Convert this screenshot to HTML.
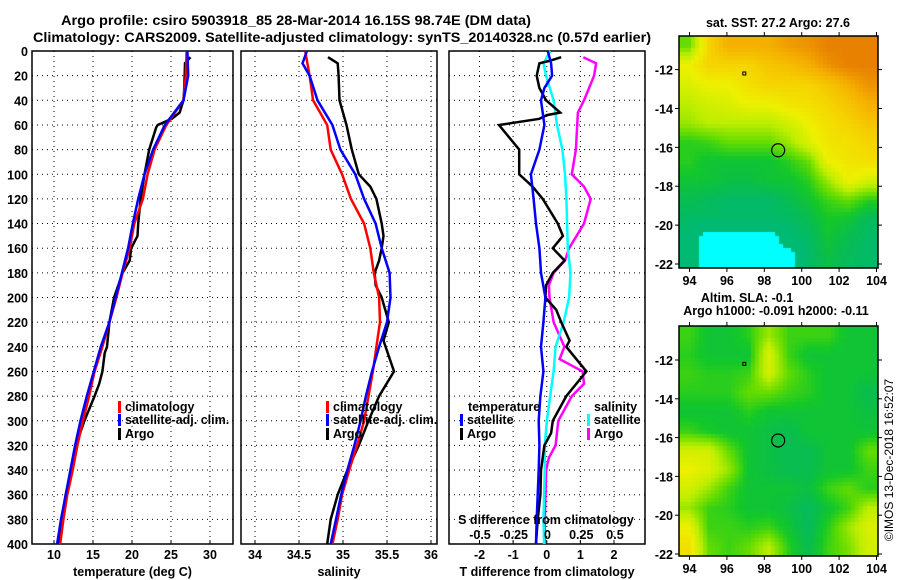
<!DOCTYPE html>
<html><head><meta charset="utf-8"><style>
html,body{margin:0;padding:0;background:#fff;}
#wrap{position:relative;width:900px;height:580px;overflow:hidden;}
svg{position:absolute;left:0;top:0;}
canvas{position:absolute;}
text{font-family:"Liberation Sans",sans-serif;font-weight:bold;font-size:12.5px;fill:#000;}
</style></head><body>
<div id="wrap">
<canvas id="map1" width="199" height="232" style="left:679px;top:36px"></canvas>
<canvas id="map2" width="199" height="230" style="left:679px;top:326px"></canvas>
<svg id="chart" width="900" height="580" xmlns="http://www.w3.org/2000/svg">
<text x="296" y="25" text-anchor="middle" style="font-size:13.5px" textLength="470" lengthAdjust="spacingAndGlyphs">Argo profile: csiro 5903918_85 28-Mar-2014 16.15S 98.74E (DM data)</text>
<text x="342" y="42" text-anchor="middle" style="font-size:13.5px" textLength="618" lengthAdjust="spacingAndGlyphs">Climatology: CARS2009. Satellite-adjusted climatology: synTS_20140328.nc (0.57d earlier)</text>
<text x="778" y="27" text-anchor="middle">sat. SST: 27.2 Argo: 27.6</text>
<text x="747" y="302" text-anchor="middle">Altim. SLA: -0.1</text>
<text x="776" y="315" text-anchor="middle">Argo h1000: -0.091 h2000: -0.11</text>
<text transform="translate(893,460) rotate(-90)" text-anchor="middle" style="font-weight:normal;font-size:12px">©IMOS 13-Dec-2018 16:52:07</text>
<g id="g"></g>
</svg>
</div>
<script>
const tDepth=[0,20,40,60,80,100,120,140,160,180,200,220,240,260,280,300,320,340,360,380,400];
const tClim=[27.0,26.9,26.6,24.4,22.9,22.0,21.4,20.3,19.7,18.8,18.0,17.1,16.2,15.2,14.5,13.7,13.0,12.4,11.7,11.2,10.8];
const tSatAdj=[27.1,27.2,26.6,24.2,22.7,21.6,20.8,20.1,19.5,18.7,17.9,17.1,16.0,15.1,14.2,13.4,12.7,12.1,11.5,10.9,10.4];
const argoTDepth=[5,10,30,40,50,55,60,62,80,100,120,140,150,160,170,180,200,220,240,245,260,270,280,300,320,340,360,380,400];
const argoT=[27.5,26.8,26.7,26.6,26.1,25.1,23.3,23.1,22.2,21.6,21.1,20.8,20.7,19.9,19.7,18.8,17.7,17.1,16.8,16.5,16.2,15.8,15.2,13.9,12.8,12.2,11.5,11.0,10.5];
const sDepth=[0,20,40,60,80,100,120,140,160,180,200,220,240,260,280,300,320,340,360,380,400];
const sClim=[34.57,34.62,34.66,34.82,34.86,34.99,35.09,35.24,35.31,35.35,35.41,35.42,35.38,35.34,35.29,35.24,35.16,35.07,34.99,34.94,34.88];
const sSatDepth=[0,10,20,40,60,80,100,120,140,160,180,200,220,240,260,280,300,320,340,360,380,400];
const sSatAdj=[34.59,34.54,34.62,34.71,34.88,34.97,35.14,35.24,35.37,35.44,35.53,35.54,35.50,35.41,35.33,35.26,35.20,35.13,35.05,34.98,34.92,34.86];
const argoSDepth=[5,10,20,40,60,80,100,110,120,140,150,160,170,180,190,200,220,235,260,280,300,320,340,360,380,400];
const argoS=[34.83,34.94,34.95,34.96,35.04,35.10,35.18,35.31,35.38,35.44,35.46,35.44,35.41,35.36,35.37,35.44,35.52,35.46,35.58,35.41,35.29,35.18,35.05,34.94,34.86,34.82];
const dTSatDepth=[0,10,20,30,40,60,80,100,120,140,160,180,200,220,240,260,280,300,320,340,360,380,400];
const dTSat=[0.03,0.13,0.16,-0.07,-0.17,-0.07,-0.22,-0.47,-0.39,-0.32,-0.22,-0.17,-0.04,-0.1,-0.17,-0.1,-0.19,-0.24,-0.22,-0.24,-0.27,-0.3,-0.32];
const dTArgoDepth=[5,8,10,20,30,40,50,52,55,60,70,80,100,110,120,140,150,160,170,180,190,200,210,220,235,240,260,280,300,310,320,340,360,380,400];
const dTArgo=[0.43,0.08,-0.22,-0.3,-0.22,-0.02,0.4,0.0,-0.22,-1.42,-1.12,-0.82,-0.82,-0.42,-0.12,0.33,0.48,0.18,0.53,0.18,-0.02,-0.04,0.28,0.43,0.68,0.58,1.18,0.58,0.18,0.13,-0.07,-0.17,-0.19,-0.27,-0.32];
const dSSatDepth=[0,10,20,40,60,80,100,120,140,160,180,200,220,240,260,280,300,320,340,360,380,400];
const dSSat=[0.02,-0.03,-0.01,0.045,0.07,0.11,0.13,0.14,0.145,0.15,0.17,0.16,0.12,0.06,0.045,0.02,-0.005,-0.02,-0.02,-0.025,-0.03,-0.025];
const dSArgoDepth=[5,10,20,40,50,60,80,100,110,120,140,160,170,180,190,200,220,240,250,260,270,280,300,320,330,340,360,380,400];
const dSArgo=[0.265,0.36,0.345,0.27,0.225,0.22,0.21,0.18,0.27,0.32,0.27,0.16,0.13,0.045,0.01,0.015,0.045,0.125,0.09,0.26,0.27,0.18,0.08,0.06,0.01,-0.01,-0.015,-0.02,-0.02];
const depthTicks=[0,20,40,60,80,100,120,140,160,180,200,220,240,260,280,300,320,340,360,380,400];
const tTicks=[10,15,20,25,30];
const sTicks=[34,34.5,35,35.5,36];
const sTickLabels=["34","34.5","35","35.5","36"];
const dTTicks=[-2,-1,0,1,2];
const dSTicks=[-0.5,-0.25,0,0.25,0.5];
const dSTickLabels=["-0.5","-0.25","0","0.25","0.5"];
const sstGrid=[
[1.5,3,3.5,3.5,3.5,3.7,3.8,4,4,4],
[2.5,3,3,3,3.2,3.3,3.5,3.8,4,4],
[2.3,2.5,2.5,2.8,3,3,3,3.2,3.5,3.8],
[2,2.2,2.3,2.5,2.5,2.7,2.8,3,3.2,3.5],
[1.8,2,2,2,2,2.2,2.5,2.8,3,3.2],
[1.2,1.3,1.5,1.5,1.5,1.8,2.3,2.7,2.8,3],
[1.2,1,1,1,1,1.2,1.5,2.5,2.7,2.8],
[1,1,0.9,0.9,1,1,1.2,1.8,2.5,2.2],
[0.8,0.7,0.6,0.6,0.6,0.8,1,1.3,1.5,1.2],
[0.6,0.6,0.6,0.6,0.6,0.6,0.8,1.1,1,0.7],
[0.5,0,0,0,0,0.5,0.6,1,0.8,0.6],
[0.5,0,0,0,0,0,0.6,0.9,0.7,0.6]];
const slaGrid=[
[1.3,1,1,1.2,1.8,1.3,1.3,1.3,1,1],
[1.2,1,1,1,2.3,1.3,1,1,1,1],
[1.3,1.2,1.2,1.3,2.2,1.5,1.2,1,1,1],
[1.2,1.2,1.2,1.5,1.5,1.3,1.2,1,1,0.8],
[1,1,1,1.2,1,1,1,1,1,0.9],
[1.3,1.1,1,1,0.9,0.8,1,1,1,1],
[2.2,2.2,1.5,1,0.9,0.8,0.8,1,1,1.5],
[2.5,2.3,1.8,1,0.9,0.8,0.8,1,1,1.3],
[2.2,1.8,1.3,1,1,1,0.9,1.3,1.5,1.2],
[1.8,1.3,1.2,1,1,0.9,0.7,1,1.3,2],
[2.5,1.3,1.3,1.2,1.3,1,0.7,1.2,1.8,2.3],
[2.8,1.5,1.3,1.5,2,1.2,0.8,1.3,1.6,2.2]];
const argoLon=98.74, argoLat=-16.15;
const lonTicks=[94,96,98,100,102,104];
const latTicks=[-12,-14,-16,-18,-20,-22];

const NS='http://www.w3.org/2000/svg';
const G=document.getElementById('g');
function el(tag,attrs,parent){const e=document.createElementNS(NS,tag);for(const k in attrs)e.setAttribute(k,attrs[k]);(parent||G).appendChild(e);return e;}
function txt(x,y,s,anchor,parent,size){const t=el('text',{x:x,y:y,'text-anchor':anchor||'middle'},parent);if(size)t.style.fontSize=size+'px';t.textContent=s;return t;}

const yTop=51,yBot=544;
function yD(d){return yTop+(yBot-yTop)*d/400;}
function lin(d0,d1,p0,p1){return v=>p0+(v-d0)*(p1-p0)/(d1-d0);}
const panels=[
 {name:'temperature-panel',l:32,r:233,x:lin(10,30,54,210),ticks:tTicks,labels:tTicks.map(String),title:'temperature (deg C)'},
 {name:'salinity-panel',l:241,r:437,x:lin(34,36,255,431),ticks:sTicks,labels:sTickLabels,title:'salinity'},
 {name:'difference-panel',l:449,r:645,x:lin(-2,2,479.5,614),ticks:dTTicks,labels:dTTicks.map(String),title:'T difference from climatology'}
];
panels.forEach((p,pi)=>{
 const g=el('g',{});
 
 
 depthTicks.forEach(d=>{if(d>0&&d<400){const l=el('line',{x1:p.l,x2:p.r,y1:yD(d),y2:yD(d),stroke:'#000','stroke-width':1,'stroke-dasharray':'1,4'},g);}});
 p.ticks.forEach((t,i)=>{const X=p.x(t);
  const l=el('line',{x1:X,x2:X,y1:yTop,y2:yBot,stroke:'#000','stroke-width':1,'stroke-dasharray':'1,4'},g);
  el('line',{x1:X,x2:X,y1:yBot,y2:yBot-4,stroke:'#000'},g);
  const tl=txt(X,559,p.labels[i],'middle',g);});
 const at=txt((p.l+p.r)/2,576,p.title,'middle',g);
 const fr=el('rect',{x:p.l,y:yTop,width:p.r-p.l,height:yBot-yTop,fill:'none',stroke:'#000','stroke-width':1.5},g);
 
 if(pi===0){depthTicks.forEach(d=>{const tl=txt(28,yD(d)+5,String(d),'end',g);});}
});
function series(xs,ds,xf,color,name,w){
 const pts=xs.map((v,i)=>xf(v).toFixed(1)+','+yD(ds[i]).toFixed(1)).join(' ');
 const pl=el('polyline',{points:pts,fill:'none',stroke:color,'stroke-width':w||2.5,'stroke-linejoin':'miter'});
 
 
}
const xT=panels[0].x,xS=panels[1].x,xDT=panels[2].x;
const xDS=lin(-0.5,0.5,480,615);
series(argoT,argoTDepth,xT,'#000','argo-temperature-line');
series(tClim,tDepth,xT,'#f00','climatology-temperature-line');
series(tSatAdj,tDepth,xT,'#00f','satellite-temperature-line');
series(argoS,argoSDepth,xS,'#000','argo-salinity-line');
series(sClim,sDepth,xS,'#f00','climatology-salinity-line');
series(sSatAdj,sSatDepth,xS,'#00f','satellite-salinity-line');
series(dSArgo,dSArgoDepth,xDS,'#f0f','argo-s-diff-line');
series(dSSat,dSSatDepth,xDS,'#0ff','satellite-s-diff-line');
series(dTArgo,dTArgoDepth,xDT,'#000','argo-t-diff-line');
series(dTSat,dTSatDepth,xDT,'#00f','satellite-t-diff-line');

const sa=txt(546,524,'S difference from climatology','middle');

dSTicks.forEach((t,i)=>{const l=txt(xDS(t),539,dSTickLabels[i],'middle');});

function legend(x,y,color,label,name){
 const g=el('g',{});
 
 
 el('rect',{x:x,y:y-10,width:3,height:12,fill:color},g);
 txt(x+7,y,label,'start',g);
}
legend(118,411,'#f00','climatology','legend-temp-climatology');
legend(118,424,'#00f','satellite-adj. clim.','legend-temp-satellite');
legend(118,438,'#000','Argo','legend-temp-argo');
legend(326,411,'#f00','climatology','legend-sal-climatology');
legend(326,424,'#00f','satellite-adj. clim.','legend-sal-satellite');
legend(326,438,'#000','Argo','legend-sal-argo');
const lt=txt(468,411,'temperature','start');
legend(460,424,'#00f','satellite','legend-tdiff-satellite');
legend(460,438,'#000','Argo','legend-tdiff-argo');
const ls=txt(594,411,'salinity','start');
legend(587,424,'#0ff','satellite','legend-sdiff-satellite');
legend(587,438,'#f0f','Argo','legend-sdiff-argo');

const stops=[[0.5,[0,185,115]],[0.85,[10,190,75]],[1.1,[20,200,40]],[1.5,[100,220,0]],[2.0,[190,238,0]],[2.5,[238,240,0]],[3.0,[245,212,0]],[3.5,[245,175,0]],[4.0,[232,128,0]]];
function cmap(v){if(v<0.25)return [0,255,255];if(v<=stops[0][0])return stops[0][1];
 for(let i=1;i<stops.length;i++){if(v<=stops[i][0]){const a=stops[i-1],b=stops[i],f=(v-a[0])/(b[0]-a[0]);return a[1].map((c,k)=>Math.round(c+(b[1][k]-c)*f));}}
 return stops[stops.length-1][1];}
function drawMap(id,grid,x0,y0,w,h,yLat12,yLat22,name){
 const c=document.getElementById(id),ctx=c.getContext('2d');
 const rows=grid.length,cols=grid[0].length,B=4;
 function sample(u,v){
  let x=u-0.5,y=v-0.5;x=Math.max(0,Math.min(cols-1,x));y=Math.max(0,Math.min(rows-1,y));
  const i=Math.floor(x),j=Math.floor(y),i2=Math.min(cols-1,i+1),j2=Math.min(rows-1,j+1),fx=x-i,fy=y-j;
  return grid[j][i]*(1-fx)*(1-fy)+grid[j][i2]*fx*(1-fy)+grid[j2][i]*(1-fx)*fy+grid[j2][i2]*fx*fy;}
 for(let py=0;py<h;py+=B)for(let px=0;px<w;px+=B){
  const v=sample((px+B/2)/w*cols,(py+B/2)/h*rows);const col=cmap(v);
  ctx.fillStyle='rgb('+col.join(',')+')';ctx.fillRect(px,py,B,B);}
 const lonX=lin(94,104,689.5,876.5);
 const latY=lin(-12,-22,yLat12,yLat22);
 const g=el('g',{});
 
 
 el('rect',{x:x0,y:y0,width:w,height:h,fill:'none',stroke:'#000','stroke-width':1.5},g);
 lonTicks.forEach(t=>{const X=lonX(t);el('line',{x1:X,x2:X,y1:y0+h,y2:y0+h+4,stroke:'#000'},g);el('line',{x1:X,x2:X,y1:y0,y2:y0-4,stroke:'#000'},g);const l=txt(X,y0+h+17,String(t),'middle',g);});
 latTicks.forEach(t=>{const Y=latY(t);el('line',{x1:x0,x2:x0-4,y1:Y,y2:Y,stroke:'#000'},g);el('line',{x1:x0+w,x2:x0+w+4,y1:Y,y2:Y,stroke:'#000'},g);const l=txt(673,Y+5,String(t),'end',g);});
 const m=el('circle',{cx:lonX(argoLon),cy:latY(argoLat),r:6.5,fill:'none',stroke:'#000','stroke-width':1.2},g);
 
 el('rect',{x:lonX(96.85),y:latY(-12.2)-1.5,width:3,height:3,fill:'none',stroke:'#000','stroke-width':1},g);
}
drawMap('map1',sstGrid,679,36,199,232,69.6,264,'sst-map');
drawMap('map2',slaGrid,679,326,199,230,360,554,'sla-map');
</script>
</body></html>
